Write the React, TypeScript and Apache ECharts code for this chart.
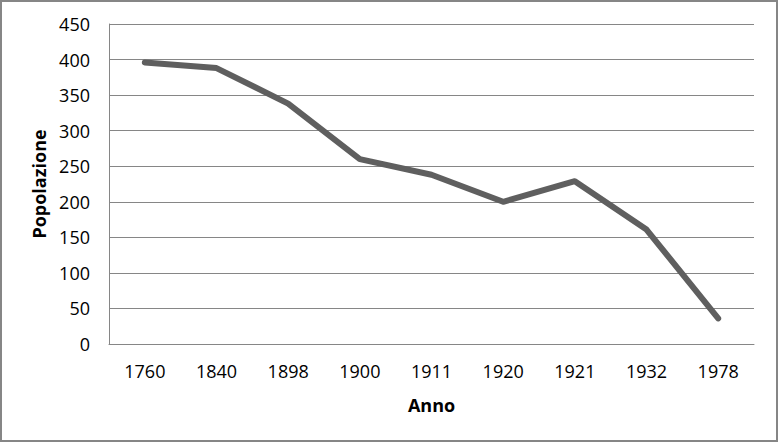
import React, { useEffect, useRef } from "react";
import * as echarts from "echarts";

const categories = ["1760", "1840", "1898", "1900", "1911", "1920", "1921", "1932", "1978"];
const popolazione = [396, 388, 338, 260, 238, 200, 229, 161, 36];
const yTicks = { min: 0, max: 450, interval: 50 };

const FONT = "'Open Sans', 'Liberation Sans', sans-serif";

export default function App() {
  const ref = useRef<HTMLDivElement>(null);
  useEffect(() => {
    if (!ref.current) return;
    const chart = echarts.init(ref.current, null, { renderer: "svg" });
    chart.setOption({
      animation: false,
      backgroundColor: "#ffffff",
      graphic: [
        {
          type: "rect",
          shape: { x: 1, y: 1, width: 776, height: 440 },
          style: { fill: "none", stroke: "#868686", lineWidth: 2 },
          silent: true,
        },
      ],
      grid: { left: 109, right: 24, top: 24, bottom: 98, containLabel: false },
      xAxis: {
        type: "category",
        data: categories,
        boundaryGap: true,
        name: "Anno",
        nameLocation: "middle",
        nameGap: 52,
        nameTextStyle: { fontFamily: FONT, fontSize: 18, fontWeight: "bold", color: "#000" },
        axisLine: { show: true, lineStyle: { color: "#868686", width: 1 } },
        axisTick: { show: false },
        axisLabel: { fontFamily: FONT, fontSize: 18, color: "#000", margin: 18 },
        splitLine: { show: false },
      },
      yAxis: {
        type: "value",
        min: yTicks.min,
        max: yTicks.max,
        interval: yTicks.interval,
        name: "Popolazione",
        nameLocation: "middle",
        nameGap: 59,
        nameRotate: 90,
        nameTextStyle: { fontFamily: FONT, fontSize: 18, fontWeight: "bold", color: "#000" },
        axisLine: { show: true, lineStyle: { color: "#868686", width: 1 } },
        axisTick: { show: false },
        axisLabel: { fontFamily: FONT, fontSize: 18, color: "#000", margin: 19 },
        splitLine: { show: true, lineStyle: { color: "#868686", width: 1 } },
      },
      series: [
        {
          type: "line",
          data: popolazione,
          symbol: "none",
          lineStyle: { color: "#5f5f5f", width: 6, cap: "round", join: "round" },
        },
      ],
    });
    return () => chart.dispose();
  }, []);
  return (
    <div
      ref={ref}
      style={{ position: "fixed", left: 0, top: 0, width: 778, height: 442 }}
    />
  );
}
